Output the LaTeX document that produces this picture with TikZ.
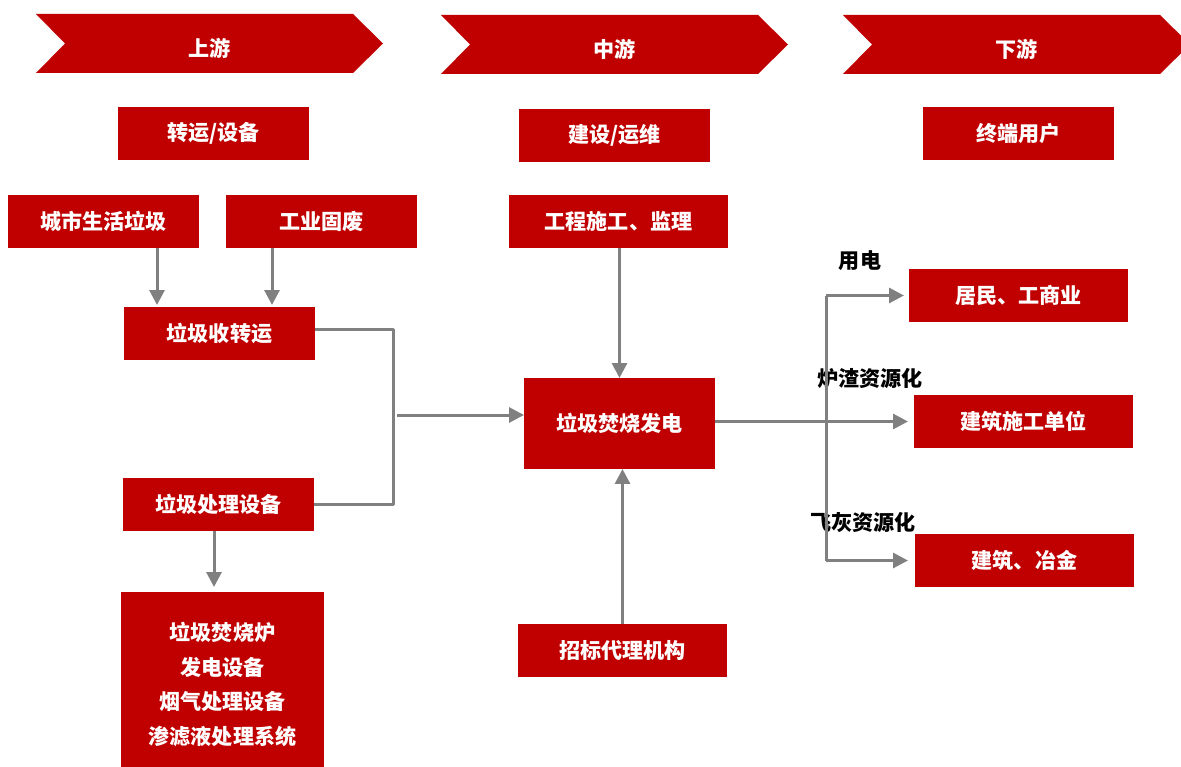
\documentclass[tikz,border=0pt]{standalone}
\usepackage{fontspec}
\setmainfont{Noto Sans CJK SC}
\usetikzlibrary{arrows.meta}
\definecolor{cred}{HTML}{C00000}
\definecolor{cgray}{HTML}{808080}
\tikzset{
  box/.style={fill=cred, draw=none, text=white, font=\fontsize{12}{14}\selectfont\bfseries, inner sep=0pt, outer sep=0pt, align=center},
  chev/.style={fill=cred, draw=none},
  chevtext/.style={text=white, font=\fontsize{12}{14}\selectfont\bfseries},
  lab/.style={text=black, font=\fontsize{12}{14}\selectfont\bfseries},
  conn/.style={draw=cgray, line width=0.06cm},
  arr/.style={conn, -{Triangle[length=0.3cm, width=0.3cm]}},
}
\newcommand\bx[6]{\node[box, minimum width={(#4-#2)*0.02cm}, minimum height={(#5-#3)*0.02cm}] (#1) at ({(#2+#4)/2},{(#3+#5)/2}) {#6};}
\newcommand\chevron[6]{\fill[chev] (#2,#4) -- ({#3-30},#4) -- (#3,{(#4+#5)/2}) -- ({#3-30},#5) -- (#2,#5) -- ({#2+29},{(#4+#5)/2}) -- cycle;
  \node[chevtext] (#1) at ({(#2+#3)/2},{(#4+#5)/2+4.5}) {#6};}
\begin{document}
\begin{tikzpicture}[x=0.02cm, y=-0.02cm]
\useasboundingbox (0,0) rectangle (1181,767);
% chevrons
\chevron{up}{36}{383}{14}{73}{上游}
\chevron{mid}{441}{788}{15}{74}{中游}
\chevron{down}{843}{1190}{15}{74}{下游}
% header boxes
\bx{zy}{118}{107}{309}{160}{转运/设备}
\bx{js}{519}{109}{710}{162}{建设/运维}
\bx{zd}{923}{107}{1114}{160}{终端用户}
% upstream
\bx{cs}{8}{195}{199}{248}{城市生活垃圾}
\bx{gy}{226}{195}{417}{248}{工业固废}
\bx{sz}{124}{307}{315}{360}{垃圾收转运}
\bx{cl}{123}{478}{314}{531}{垃圾处理设备}
\node[box, minimum width={203*0.02cm}, minimum height={175*0.02cm}, font=\fontsize{12}{19.8}\selectfont\bfseries] (sb) at (222.5,679.5) {\rule{0pt}{16pt}垃圾焚烧炉\\发电设备\\烟气处理设备\\渗滤液处理系统};
% midstream
\bx{gc}{509}{195}{728}{248}{工程施工、监理}
\bx{fs}{524}{378}{715}{469}{垃圾焚烧发电}
\bx{zb}{518}{624}{727}{677}{招标代理机构}
% downstream
\bx{r1}{909}{269}{1128}{322}{居民、工商业}
\bx{r2}{914}{395}{1133}{448}{建筑施工单位}
\bx{r3}{915}{534}{1134}{587}{建筑、冶金}
% labels
\node[lab] (l1) at (860,261) {用电};
\node[lab] (l2) at (870,379) {炉渣资源化};
\node[lab] (l3) at (863,522) {飞灰资源化};
% helper coordinates
\coordinate (a1) at (157,0);
\coordinate (a2) at (272,0);
\coordinate (a3) at (214,0);
\coordinate (bx) at (393,0);
\coordinate (by) at (0,415);
\coordinate (vx) at (826,0);
% upstream connectors
\draw[arr] (cs.south -| a1) -- ([yshift=0.04cm]sz.north -| a1);
\draw[arr] (gy.south -| a2) -- ([yshift=0.04cm]sz.north -| a2);
\draw[arr] (cl.south -| a3) -- ([yshift=0.1cm]sb.north -| a3);
\draw[conn, line join=round] ([yshift=0.09cm]sz.east) -| (bx |- cl.east) -- (cl.east);
\draw[arr] ([xshift=0.08cm]bx |- by) -- (fs.west |- by);
% midstream connectors
\draw[arr] (gc.south -| fs.north) -- (fs.north);
\draw[arr] (zb.north) -- (zb.north |- fs.south);
% downstream connectors
\draw[arr] (fs.east |- r2.west) -- ([xshift=-0.12cm]r2.west);
\draw[conn] (vx |- r1.west) -- (vx |- r3.west);
\draw[arr] (vx |- r1.west) -- ([xshift=-0.1cm]r1.west);
\draw[arr] (vx |- r3.west) -- ([xshift=-0.14cm]r3.west);
\end{tikzpicture}
\end{document}
